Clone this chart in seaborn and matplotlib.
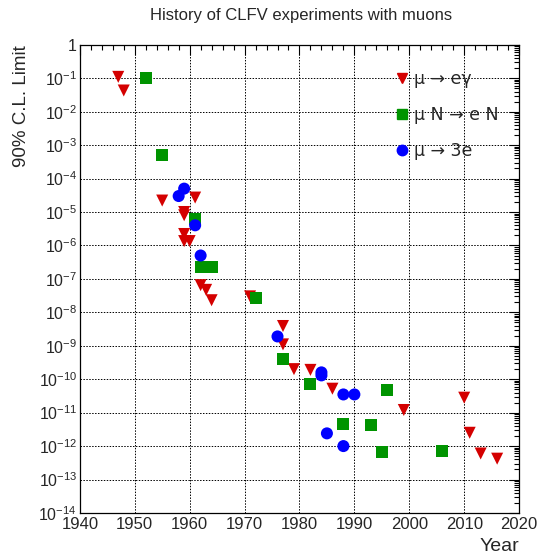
import numpy as np
import pandas as pd
import matplotlib
matplotlib.use('Agg')
import matplotlib.pyplot as plt
import matplotlib.ticker as mticker
import seaborn as sns

# mu -> e gamma
meg_year = [1947, 1948, 1955, 1959, 1959, 1959, 1959, 1960, 1961, 1962, 1963, 1964,
            1971, 1977, 1977, 1979, 1982, 1986, 1999, 2010, 2011, 2013, 2016]
meg_limit = [1.1e-1, 4.3e-2, 2.2e-5, 1.0e-5, 8e-6, 2.2e-6, 1.35e-6, 1.35e-6, 2.7e-5,
             6.5e-8, 4.7e-8, 2.3e-8, 3e-8, 3.9e-9, 1.1e-9, 2e-10, 1.9e-10, 5.2e-11,
             1.2e-11, 2.8e-11, 2.5e-12, 6e-13, 4.2e-13]

# mu N -> e N
mue_year = [1952, 1955, 1961, 1962, 1964, 1972, 1977, 1982, 1988, 1993, 1995, 1996, 2006]
mue_limit = [1e-1, 5e-4, 6e-6, 2.2e-7, 2.2e-7, 2.6e-8, 4e-10, 7e-11, 4.7e-12, 4.3e-12,
             6.5e-13, 4.6e-11, 7e-13]

# mu -> 3e
mu3e_year = [1958, 1959, 1961, 1962, 1976, 1984, 1984, 1985, 1988, 1988, 1990]
mu3e_limit = [3e-5, 5e-5, 4e-6, 5e-7, 1.9e-9, 1.6e-10, 1.3e-10, 2.4e-12, 3.5e-11, 1e-12, 3.5e-11]

labels = ['\u03bc \u2192 e\u03b3', '\u03bc N \u2192 e N', '\u03bc \u2192 3e']
colors = ['#d40000', '#009400', '#0000ff']
markers = ['v', 's', 'o']

df = pd.concat([
    pd.DataFrame({'year': meg_year, 'limit': meg_limit, 'process': labels[0]}),
    pd.DataFrame({'year': mue_year, 'limit': mue_limit, 'process': labels[1]}),
    pd.DataFrame({'year': mu3e_year, 'limit': mu3e_limit, 'process': labels[2]}),
])

sns.set_style('white')
plt.rcParams['font.family'] = ['Liberation Sans', 'DejaVu Sans']

fig = plt.figure(figsize=(5.43, 5.60), dpi=100)
ax = fig.add_axes([0.147, 0.084, 0.809, 0.836])

sns.scatterplot(data=df, x='year', y='limit', hue='process', style='process',
                palette=dict(zip(labels, colors)), markers=dict(zip(labels, markers)),
                s=75, edgecolor='none', ax=ax, legend=False)

ax.set_yscale('log')
ax.set_xlim(1940, 2020)
ax.set_ylim(1e-14, 1)

ax.xaxis.set_major_locator(mticker.MultipleLocator(10))
ax.xaxis.set_minor_locator(mticker.MultipleLocator(2))
ax.yaxis.set_major_locator(mticker.LogLocator(base=10, numticks=20))
ax.yaxis.set_minor_locator(mticker.LogLocator(base=10, subs=np.arange(2, 10), numticks=20))
ax.yaxis.set_minor_formatter(mticker.NullFormatter())


def yfmt(v, pos):
    e = int(round(np.log10(v)))
    if e == 0:
        return '1'
    return r'$\mathregular{10^{%d}}$' % e


ax.yaxis.set_major_formatter(mticker.FuncFormatter(yfmt))

ax.tick_params(which='both', direction='in', top=True, right=True, color='black')
ax.tick_params(axis='x', labelsize=12, pad=3)
ax.tick_params(axis='y', labelsize=11.5, pad=2)
ax.tick_params(which='major', length=7, width=0.8)
ax.tick_params(which='minor', length=3.5, width=0.8)
ax.grid(True, which='major', linestyle=(0, (1.5, 1.5)), color='black', linewidth=0.7)
for sp in ax.spines.values():
    sp.set_color('black')
    sp.set_linewidth(0.9)

ax.set_xlabel('Year', fontsize=14, loc='right', labelpad=4)
ax.set_ylabel('90% C.L. Limit', fontsize=13.5, loc='top', labelpad=6)

fig.suptitle('History of CLFV experiments with muons', fontsize=12, x=0.555, y=0.985)

handles = [plt.Line2D([], [], linestyle='none', marker=m, color=c, markersize=7.5)
           for m, c in zip(markers, colors)]
leg = ax.legend(handles, labels, loc='upper left', bbox_to_anchor=(0.677, 0.98), frameon=False,
                prop={'family': 'DejaVu Sans', 'size': 12.5},
                labelspacing=1.05, handletextpad=0.2, handlelength=1.0)

fig.savefig('out.png', dpi=100)
